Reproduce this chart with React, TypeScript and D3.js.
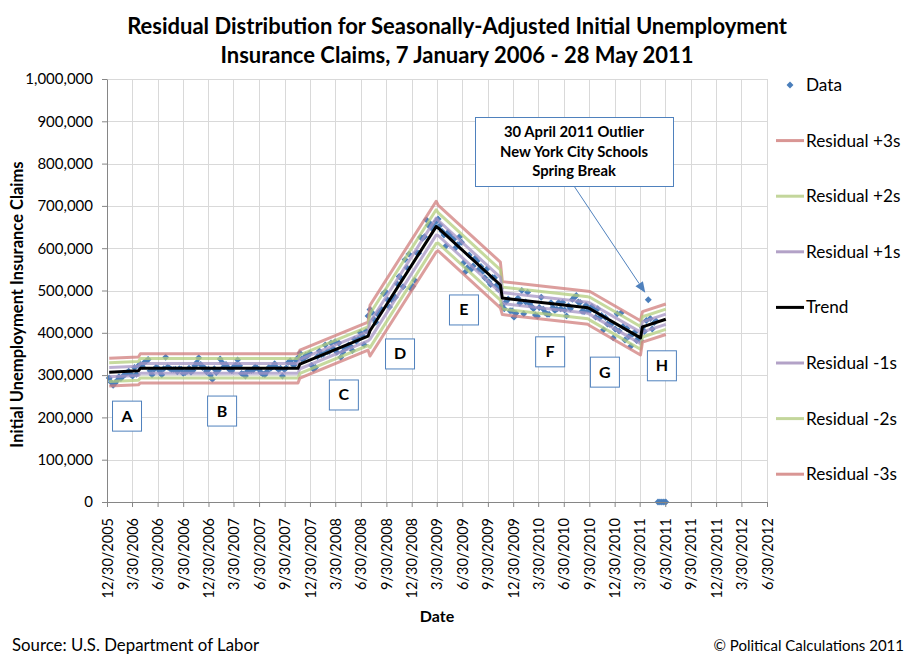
import { useEffect, useRef } from 'react';
import * as d3 from 'd3';

// weekly seasonally-adjusted initial claims, thousands, starting with the week of 7 Jan 2006
const firstWeek = '2006-01-07';
const weeklyClaims = [
  // A
  293, 283, 276, 281, 287, 296, 292, 297, 301, 305, 309, 302, 298, 318, 302, 322,
  // B
  325, 321, 330, 333, 337, 310, 301, 313, 318, 316, 309, 301, 315, 342, 319, 316, 313, 313,
  314, 308, 315, 314, 304, 306, 309, 316, 307, 311, 322, 330, 341, 325, 318, 317, 308, 314,
  300, 290, 315, 306, 311, 338, 330, 320, 325, 318, 312, 310, 320, 324, 336, 322, 304, 302,
  298, 309, 311, 311, 312, 319, 317, 313, 306, 302, 301, 308, 318, 316, 320, 327, 318, 313,
  316, 298, 313, 317, 330, 334, 327, 324, 335, 341,
  // C
  352, 338, 339, 347, 346, 352, 323, 314, 318, 344, 357, 348, 349, 371, 355, 356, 376, 363,
  379, 354, 376, 342, 354, 363, 365, 371, 368, 358, 385, 380, 386, 401, 394, 372, 404, 440,
  // D
  455, 448, 432, 425, 444, 451, 455, 493, 497, 478, 461, 478, 481, 484, 516, 533, 529, 509,
  573, 554, 586, 505, 510, 524, 589, 588, 626, 623, 627, 667, 654, 658, 646, 652, 663,
  // E
  669, 654, 640, 631, 605, 637, 631, 623, 621, 601, 608, 627, 614, 565, 544, 554, 584, 550,
  558, 576, 570, 550, 557, 545, 530, 551, 521, 514, 531, 530, 512, 502, 505,
  // F
  466, 457, 474, 480, 452, 452, 437, 446, 482, 470, 500, 445, 473, 496, 469, 462, 457, 442,
  439, 460, 484, 456, 448, 444, 444, 471, 460, 453, 456, 472, 457, 472, 454, 440, 464, 457,
  479, 484, 488, 473, 472, 451, 450, 465, 453,
  // G
  453, 462, 455, 437, 457, 435, 441, 407, 436, 421, 420, 420, 388, 409, 445, 404, 447, 415,
  383, 410, 391, 368, 397, 401, 382, 388, 382,
  // H
  412, 403, 429, 478, 434, 409, 424, 428,
];
// rows of the sheet with no figure yet, plotted at zero
const emptyWeeks = ['2011-06-04', '2011-06-11', '2011-06-18', '2011-06-25', '2011-07-02'];

const segmentNames = ['A', 'B', 'C', 'D', 'E', 'F', 'G', 'H'];
const segmentStart = ['2006-01-07', '2006-04-29', '2007-11-24', '2008-08-02', '2009-04-04', '2009-11-21', '2010-10-02', '2011-04-09'];
const segmentEnd = ['2006-04-22', '2007-11-17', '2008-07-26', '2009-03-28', '2009-11-14', '2010-09-25', '2011-04-02', '2011-07-02'];
const trendStart = [307, 316, 326, 405, 648, 482, 457, 414];
const trendEnd = [310, 316, 392, 651, 513, 459, 388, 432];
const segmentSigma = [11, 11.5, 11, 20, 18, 13, 13.5, 12];

// where the segment letters sit
const letterDates = ['2006-03-12', '2007-02-17', '2008-04-30', '2008-11-18', '2009-07-06', '2010-05-12', '2010-11-25', '2011-06-18'];
const letterValues = [203000, 215000, 253000, 350000, 454000, 355000, 307000, 322000];

const xTickLabels = [
  '12/30/2005', '3/30/2006', '6/30/2006', '9/30/2006', '12/30/2006', '3/30/2007', '6/30/2007',
  '9/30/2007', '12/30/2007', '3/30/2008', '6/30/2008', '9/30/2008', '12/30/2008', '3/30/2009',
  '6/30/2009', '9/30/2009', '12/30/2009', '3/30/2010', '6/30/2010', '9/30/2010', '12/30/2010',
  '3/30/2011', '6/30/2011', '9/30/2011', '12/30/2011', '3/30/2012', '6/30/2012',
];
const yTicks = [0, 100000, 200000, 300000, 400000, 500000, 600000, 700000, 800000, 900000, 1000000];

const bandLevels = [3, 2, 1, -1, -2, -3];
const bandColors = ['#D07E7C', '#B3CD7E', '#A594C4', '#A594C4', '#B3CD7E', '#D07E7C'];
const legendNames = ['Data', 'Residual +3s', 'Residual +2s', 'Residual +1s', 'Trend', 'Residual -1s', 'Residual -2s', 'Residual -3s'];
const legendColors = ['#4A7EBB', '#D99694', '#C3D69B', '#B3A2C7', '#000000', '#B3A2C7', '#C3D69B', '#D99694'];

const outlierNote = ['30 April 2011 Outlier', 'New York City Schools', 'Spring Break'];
const outlierWeek = '2011-04-30';

const FONT = 'Lato, "Open Sans", sans-serif';

export default function App() {
  const svgRef = useRef<SVGSVGElement>(null);

  useEffect(() => {
    if (!svgRef.current) return;
    const svg = d3.select(svgRef.current);
    svg.selectAll('*').remove();

    const width = 916;
    const height = 663;
    const margin = { top: 79, right: 149, bottom: 161, left: 107 };

    const parseIso = d3.utcParse('%Y-%m-%d');
    const parseTick = d3.utcParse('%m/%d/%Y');
    const tickDates = xTickLabels.map((s) => parseTick(s) as Date);

    const x = d3.scaleUtc()
      .domain([tickDates[0], tickDates[tickDates.length - 1]])
      .range([margin.left, width - margin.right]);
    const y = d3.scaleLinear()
      .domain([0, 1000000])
      .range([height - margin.bottom, margin.top]);

    svg.attr('width', width).attr('height', height).style('font-family', FONT);

    svg.append('rect').attr('width', width).attr('height', height).attr('fill', '#fff');

    // gridlines
    const grid = svg.append('g').attr('stroke', '#D9D9D9').attr('stroke-width', 1);
    tickDates.slice(1).forEach((d) => {
      grid.append('line')
        .attr('x1', Math.round(x(d)) + 0.5).attr('x2', Math.round(x(d)) + 0.5)
        .attr('y1', y(1000000)).attr('y2', y(0));
    });
    yTicks.slice(1).forEach((v) => {
      grid.append('line')
        .attr('x1', x(tickDates[0])).attr('x2', x(tickDates[tickDates.length - 1]))
        .attr('y1', Math.round(y(v)) + 0.5).attr('y2', Math.round(y(v)) + 0.5);
    });

    // data points
    const start = parseIso(firstWeek) as Date;
    const points = weeklyClaims.map((v, i) => ({ date: d3.utcDay.offset(start, i * 7), value: v * 1000 }));
    emptyWeeks.forEach((s) => points.push({ date: parseIso(s) as Date, value: 0 }));

    const diamond = d3.symbol().type(d3.symbolSquare).size(24);
    svg.append('g')
      .selectAll('path')
      .data(points)
      .join('path')
      .attr('d', diamond)
      .attr('transform', (d) => `translate(${x(d.date)},${y(d.value)}) rotate(45)`)
      .attr('fill', '#4A7EBB');

    // trend and residual bands
    type Knot = { date: Date; trend: number; sigma: number };
    const knots: Knot[] = [];
    segmentNames.forEach((_, i) => {
      knots.push({ date: parseIso(segmentStart[i]) as Date, trend: trendStart[i] * 1000, sigma: segmentSigma[i] * 1000 });
      knots.push({ date: parseIso(segmentEnd[i]) as Date, trend: trendEnd[i] * 1000, sigma: segmentSigma[i] * 1000 });
    });

    bandLevels.forEach((k, i) => {
      const line = d3.line<Knot>()
        .x((d) => x(d.date))
        .y((d) => y(d.trend + k * d.sigma));
      svg.append('path')
        .datum(knots)
        .attr('d', line)
        .attr('fill', 'none')
        .attr('stroke', bandColors[i])
        .attr('stroke-width', 3)
        .attr('stroke-opacity', 0.75)
        .attr('stroke-linejoin', 'round');
    });

    const trendLine = d3.line<Knot>().x((d) => x(d.date)).y((d) => y(d.trend));
    svg.append('path')
      .datum(knots)
      .attr('d', trendLine)
      .attr('fill', 'none')
      .attr('stroke', '#000')
      .attr('stroke-width', 3)
      .attr('stroke-linejoin', 'round');

    // axes
    const yAxis = svg.append('g')
      .attr('transform', `translate(${margin.left},0)`)
      .call(d3.axisLeft(y).tickValues(yTicks).tickSize(5).tickSizeOuter(0).tickPadding(9).tickFormat(d3.format(',')));
    yAxis.select('.domain').attr('stroke', '#868686');
    yAxis.selectAll('.tick line').attr('stroke', '#868686');
    yAxis.selectAll('.tick text').attr('font-size', 15).attr('font-family', FONT).attr('fill', '#000');

    const xAxis = svg.append('g')
      .attr('transform', `translate(0,${height - margin.bottom})`)
      .call(d3.axisBottom(x).tickValues(tickDates).tickSize(5).tickSizeOuter(0).tickFormat((_, i) => xTickLabels[i]));
    xAxis.select('.domain').attr('stroke', '#868686');
    xAxis.selectAll('.tick line').attr('stroke', '#868686');
    xAxis.selectAll('.tick text')
      .attr('font-size', 14.5)
      .attr('font-family', FONT)
      .attr('fill', '#000')
      .attr('text-anchor', 'end')
      .attr('transform', 'rotate(-90)')
      .attr('x', -16)
      .attr('y', 0)
      .attr('dy', '0.35em');

    // segment letters
    const letters = svg.append('g');
    segmentNames.forEach((name, i) => {
      const cx = x(parseIso(letterDates[i]) as Date);
      const cy = y(letterValues[i]);
      letters.append('rect')
        .attr('x', cx - 14.5).attr('y', cy - 15)
        .attr('width', 29).attr('height', 30)
        .attr('fill', '#fff').attr('stroke', '#4F81BD').attr('stroke-width', 1);
      letters.append('text')
        .attr('x', cx).attr('y', cy + 5.5)
        .attr('text-anchor', 'middle')
        .attr('font-size', 16).attr('font-weight', 'bold')
        .text(name);
    });

    // outlier callout
    const outlier = points.find((p) => +p.date === +(parseIso(outlierWeek) as Date))!;
    const tipX = x(outlier.date) - 3;
    const tipY = y(outlier.value) - 7;
    const box = { x: 475, y: 117, w: 198, h: 69 };
    const fromX = box.x + box.w / 2;
    const fromY = box.y + box.h;
    const ang = Math.atan2(tipY - fromY, tipX - fromX);
    const headLen = 11;
    const baseX = tipX - headLen * Math.cos(ang);
    const baseY = tipY - headLen * Math.sin(ang);
    svg.append('line')
      .attr('x1', fromX).attr('y1', fromY).attr('x2', baseX).attr('y2', baseY)
      .attr('stroke', '#4F81BD').attr('stroke-width', 1);
    const nx = -Math.sin(ang) * 4.5;
    const ny = Math.cos(ang) * 4.5;
    svg.append('path')
      .attr('d', `M${tipX},${tipY}L${baseX + nx},${baseY + ny}L${baseX - nx},${baseY - ny}Z`)
      .attr('fill', '#4F81BD');
    svg.append('rect')
      .attr('x', box.x + 0.5).attr('y', box.y + 0.5).attr('width', box.w).attr('height', box.h)
      .attr('fill', '#fff').attr('stroke', '#4F81BD');
    outlierNote.forEach((line, i) => {
      svg.append('text')
        .attr('x', fromX).attr('y', box.y + 20 + i * 19.5)
        .attr('text-anchor', 'middle')
        .attr('font-size', 14.8).attr('font-weight', 'bold')
        .text(line);
    });

    // legend
    const legend = svg.append('g');
    legendNames.forEach((name, i) => {
      const ly = 85 + i * 55.6;
      if (i === 0) {
        legend.append('path')
          .attr('d', diamond)
          .attr('transform', `translate(790,${ly}) rotate(45)`)
          .attr('fill', legendColors[i]);
      } else {
        legend.append('line')
          .attr('x1', 776).attr('x2', 804).attr('y1', ly).attr('y2', ly)
          .attr('stroke', legendColors[i]).attr('stroke-width', 3);
      }
      legend.append('text')
        .attr('x', 806).attr('y', ly + 6)
        .attr('font-size', 17.2)
        .text(name);
    });

    // titles
    const title = ['Residual Distribution for Seasonally-Adjusted Initial Unemployment', 'Insurance Claims, 7 January 2006 - 28 May 2011'];
    title.forEach((t, i) => {
      svg.append('text')
        .attr('x', 457).attr('y', 34 + i * 29)
        .attr('text-anchor', 'middle')
        .attr('font-size', 22).attr('font-weight', 'bold')
        .text(t);
    });

    svg.append('text')
      .attr('transform', `translate(23,${(margin.top + height - margin.bottom) / 2 + 14}) rotate(-90)`)
      .attr('text-anchor', 'middle')
      .attr('font-size', 16.5).attr('font-weight', 'bold')
      .text('Initial Unemployment Insurance Claims');

    svg.append('text')
      .attr('x', 437).attr('y', 622)
      .attr('text-anchor', 'middle')
      .attr('font-size', 16).attr('font-weight', 'bold')
      .text('Date');

    svg.append('text')
      .attr('x', 12).attr('y', 651)
      .attr('font-size', 16.8)
      .text('Source: U.S. Department of Labor');

    svg.append('text')
      .attr('x', 904).attr('y', 651)
      .attr('text-anchor', 'end')
      .attr('font-size', 15)
      .text('\u00A9 Political Calculations 2011');
  }, []);

  return <svg ref={svgRef} style={{ position: 'absolute', left: 0, top: 0, display: 'block' }}></svg>;
}
